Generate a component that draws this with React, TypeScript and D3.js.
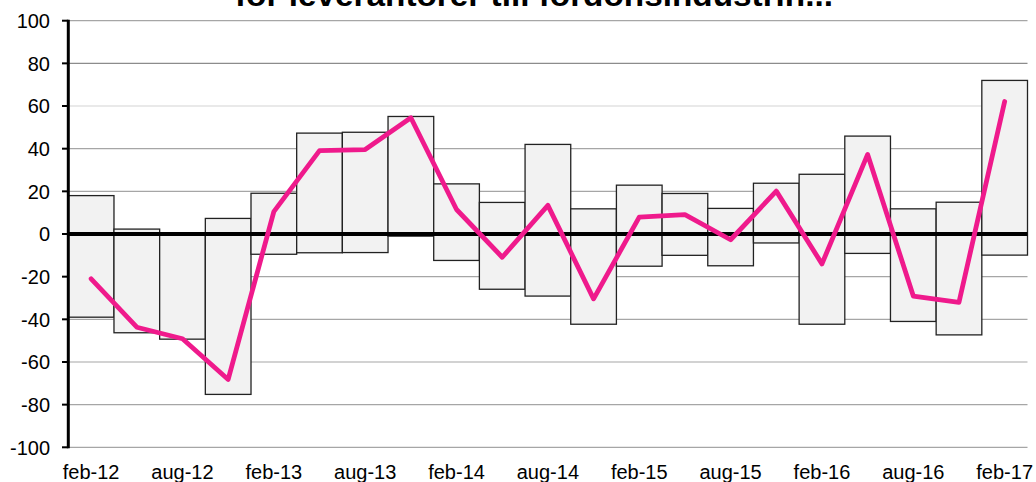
import React from "react";
import * as d3 from "d3";

const categories = [
  "feb-12", "maj-12", "aug-12", "nov-12",
  "feb-13", "maj-13", "aug-13", "nov-13",
  "feb-14", "maj-14", "aug-14", "nov-14",
  "feb-15", "maj-15", "aug-15", "nov-15",
  "feb-16", "maj-16", "aug-16", "nov-16",
  "feb-17",
];
const rangeHigh = [18, 2.3, 0, 7.3, 19.1, 47.3, 47.7, 55.1, 23.5, 14.8, 42, 11.8, 22.9, 19, 12, 23.8, 28, 45.9, 11.8, 14.9, 72];
const rangeLow = [-39, -46.3, -49.3, -75.2, -9.5, -8.8, -8.7, -1, -12.4, -25.9, -29.1, -42.3, -15.1, -10, -14.9, -4.2, -42.3, -9.1, -41, -47.3, -9.9];
const lineValues = [-21, -43.7, -49.1, -68.2, 10.5, 39.1, 39.6, 54.5, 11.5, -10.9, 13.4, -30.4, 7.9, 9.1, -2.7, 20.1, -14, 37.3, -29.1, -32, 62.1];
const yTicks = [100, 80, 60, 40, 20, 0, -20, -40, -60, -80, -100];
const title = "för leverantörer till fordonsindustrin...";

export default function App() {
  const W = 1036, H = 482;
  const left = 68.3, right = 1027.5, top = 20.7, bottom = 447.3;
  const x = d3.scaleBand<string>().domain(categories).range([left, right]).padding(0);
  const y = d3.scaleLinear().domain([-100, 100]).range([bottom, top]);
  const line = d3.line<number>()
    .x((_, i) => (x(categories[i]) as number) + x.bandwidth() / 2)
    .y((d) => y(d));
  const gridColor = (t: number) => (t === 60 ? "#d4d4d4" : t === 80 ? "#8c8c8c" : "#a6a6a6");
  const font = "'Liberation Sans', Arial, sans-serif";
  return (
    <svg width={W} height={H} style={{ position: "absolute", left: 0, top: 0, background: "#fff" }} fontFamily={font}>
      <text x={534} y={6} textAnchor="middle" fontWeight="bold" fontSize={31} textLength={598} lengthAdjust="spacingAndGlyphs" fill="#000">
        {title}
      </text>
      {yTicks.filter((t) => t !== 0).map((t) => (
        <line key={"g" + t} x1={left} x2={right} y1={y(t)} y2={y(t)} stroke={gridColor(t)} strokeWidth={1.2} />
      ))}
      {categories.map((c, i) => (
        <rect key={c} x={x(c)} y={y(rangeHigh[i])} width={x.bandwidth()} height={y(rangeLow[i]) - y(rangeHigh[i])}
          fill="#f2f2f2" stroke="#222" strokeWidth={1.3} />
      ))}
      <line x1={left} x2={right} y1={y(0)} y2={y(0)} stroke="#000" strokeWidth={4} />
      <line x1={left} x2={left} y1={top - 1} y2={bottom + 1} stroke="#000" strokeWidth={3} />
      {yTicks.map((t) => (
        <g key={"t" + t}>
          <line x1={62} x2={left} y1={y(t)} y2={y(t)} stroke="#000" strokeWidth={2} />
          <text x={50} y={y(t)} dy="0.36em" textAnchor="end" fontSize={20} fill="#000">{t}</text>
        </g>
      ))}
      <path d={line(lineValues) || ""} fill="none" stroke="#ef1a8c" strokeWidth={4.8} strokeLinejoin="round" strokeLinecap="round" />
      {categories.map((c, i) => i % 2 === 0 ? (
        <text key={"x" + c} x={(x(c) as number) + x.bandwidth() / 2} y={479} textAnchor="middle" fontSize={20} fill="#000">{c}</text>
      ) : null)}
    </svg>
  );
}
